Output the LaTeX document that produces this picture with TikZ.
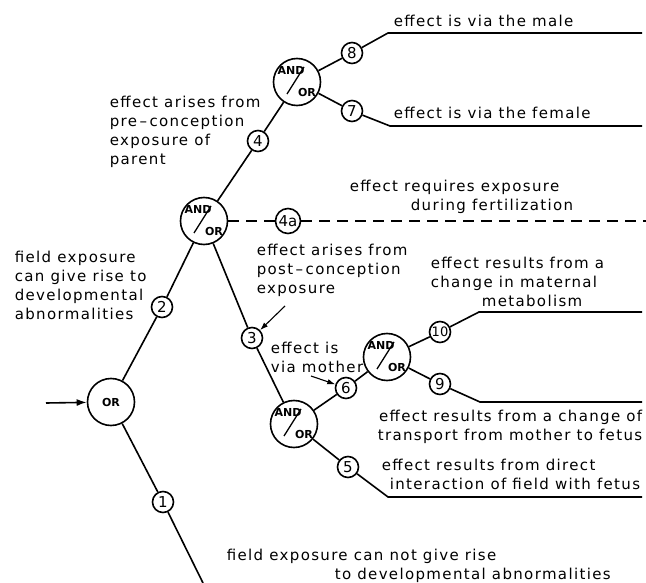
\documentclass[tikz,border=0pt]{standalone}
\usepackage{fontspec}
\setmainfont{DejaVu Sans}
\newfontfamily\lettering[LetterSpace=9]{DejaVu Sans}
\usetikzlibrary{arrows.meta, calc}

\begin{document}
\begin{tikzpicture}[x=1pt, y=-1pt, line width=1.6pt,
    gate/.style={circle, draw, inner sep=0pt, minimum size=47pt},
    num/.style={circle, draw, inner sep=0pt, minimum size=21pt, font=\fontsize{15}{15}\selectfont},
    lbl/.style={inner sep=0pt, align=left, anchor=north west, font=\lettering\fontsize{15}{19}\selectfont},
    gtxt/.style={inner sep=0pt, font=\bfseries\fontsize{11}{11}\selectfont},
    ptr/.style={-{Latex[length=8pt, width=5.5pt]}, line width=1.1pt}]
    \useasboundingbox (0,0) rectangle (646,583);

    % gates and numbered events
    \node[gate, font=\bfseries\fontsize{11}{11}\selectfont] (orgate) at (111,402) {OR};
    \node[gate] (gA) at (204,221) {};
    \node[gate] (gB) at (297,82) {};
    \node[gate] (gC) at (294,424) {};
    \node[gate] (gD) at (387,357) {};
    \foreach \g in {gA,gB,gC,gD} {
        \node[gtxt] at ($(\g)+(-6,-12)$) {AND};
        \node[gtxt] at ($(\g)+(10,10)$) {OR};
        \draw[line width=1.3pt] ($(\g)+(-10,12)$) -- ($(\g)+(7,-15)$);
    }

    \node[num] (n1) at (163,502) {1};
    \node[num] (n2) at (162,307) {2};
    \node[num] (n3) at (252,338) {3};
    \node[num] (n4) at (258,141) {4};
    \node[num, minimum size=25pt] (n4a) at (288,221) {4a};
    \node[num] (n5) at (348,467) {5};
    \node[num] (n6) at (346,388) {6};
    \node[num] (n7) at (352,111) {7};
    \node[num] (n8) at (352,53) {8};
    \node[num] (n9) at (440,384) {9};
    \node[num, font=\fontsize{13}{13}\selectfont] (n10) at (440,332) {10};

    \coordinate (in) at (46,403);
    \coordinate (c8) at (388,33);  \coordinate (e8) at (642,33);
    \coordinate (c7) at (390,126); \coordinate (e7) at (642,126);
    \coordinate (e4a) at (646,221);
    \coordinate (c10) at (479,312); \coordinate (e10) at (642,312);
    \coordinate (c9) at (480,402); \coordinate (e9) at (642,402);
    \coordinate (c5) at (388,497); \coordinate (e5) at (642,497);
    \coordinate (e1) at (203,583);
    \coordinate (a3) at (285,306);
    \coordinate (a6) at (311,376);

    % branches
    \draw[-{Latex[length=10pt, width=7pt]}] (in) -- (orgate);
    \draw (orgate) -- (n2) -- (gA);
    \draw (orgate) -- (n1) -- (e1);
    \draw (gA) -- (n4) -- (gB);
    \draw (gB) -- (n8) -- (c8) -- (e8);
    \draw (gB) -- (n7) -- (c7) -- (e7);
    \draw[dash pattern=on 11pt off 7pt] (gA) -- (n4a) -- (e4a);
    \draw (gA) -- (n3) -- (gC);
    \draw (gC) -- (n6) -- (gD);
    \draw (gD) -- (n10) -- (c10) -- (e10);
    \draw (gD) -- (n9) -- (c9) -- (e9);
    \draw (gC) -- (n5) -- (c5) -- (e5);
    \draw[ptr] (a3) -- (n3);
    \draw[ptr] (a6) -- (n6);

    % labels
    \node[lbl] (tmale) at (393,14) {effect is via the male};
    \node[lbl] (tfemale) at (393,106) {effect is via the female};
    \node[lbl] (tpre) at (109,95) {effect arises from\\pre\,\textendash\,conception\\exposure of\\parent};
    \node[lbl] (treq) at (349,179) {effect requires exposure\\\hspace*{61pt}during fertilization};
    \node[lbl] (tpost) at (256,243) {effect arises from\\post\,\textendash\,conception\\exposure};
    \node[lbl] (tmat) at (430,256) {effect results from a\\change in maternal\\\hspace*{51pt}metabolism};
    \node[lbl] (tmoth) at (270,341) {effect is\\via mother};
    \node[lbl, anchor=north east, align=right] (ttrans) at (643,409) {effect results from a change of\\transport from mother to fetus};
    \node[lbl] (tdirect) at (381,458) {effect results from direct\\\hspace*{8pt}interaction of field with fetus};
    \node[lbl] (tcannot) at (226,548) {field exposure can not give rise\\\hspace*{108pt}to developmental abnormalities};
    \node[lbl] (tcan) at (14,250) {field exposure\\can give rise to\\developmental\\abnormalities};
\end{tikzpicture}
\end{document}
